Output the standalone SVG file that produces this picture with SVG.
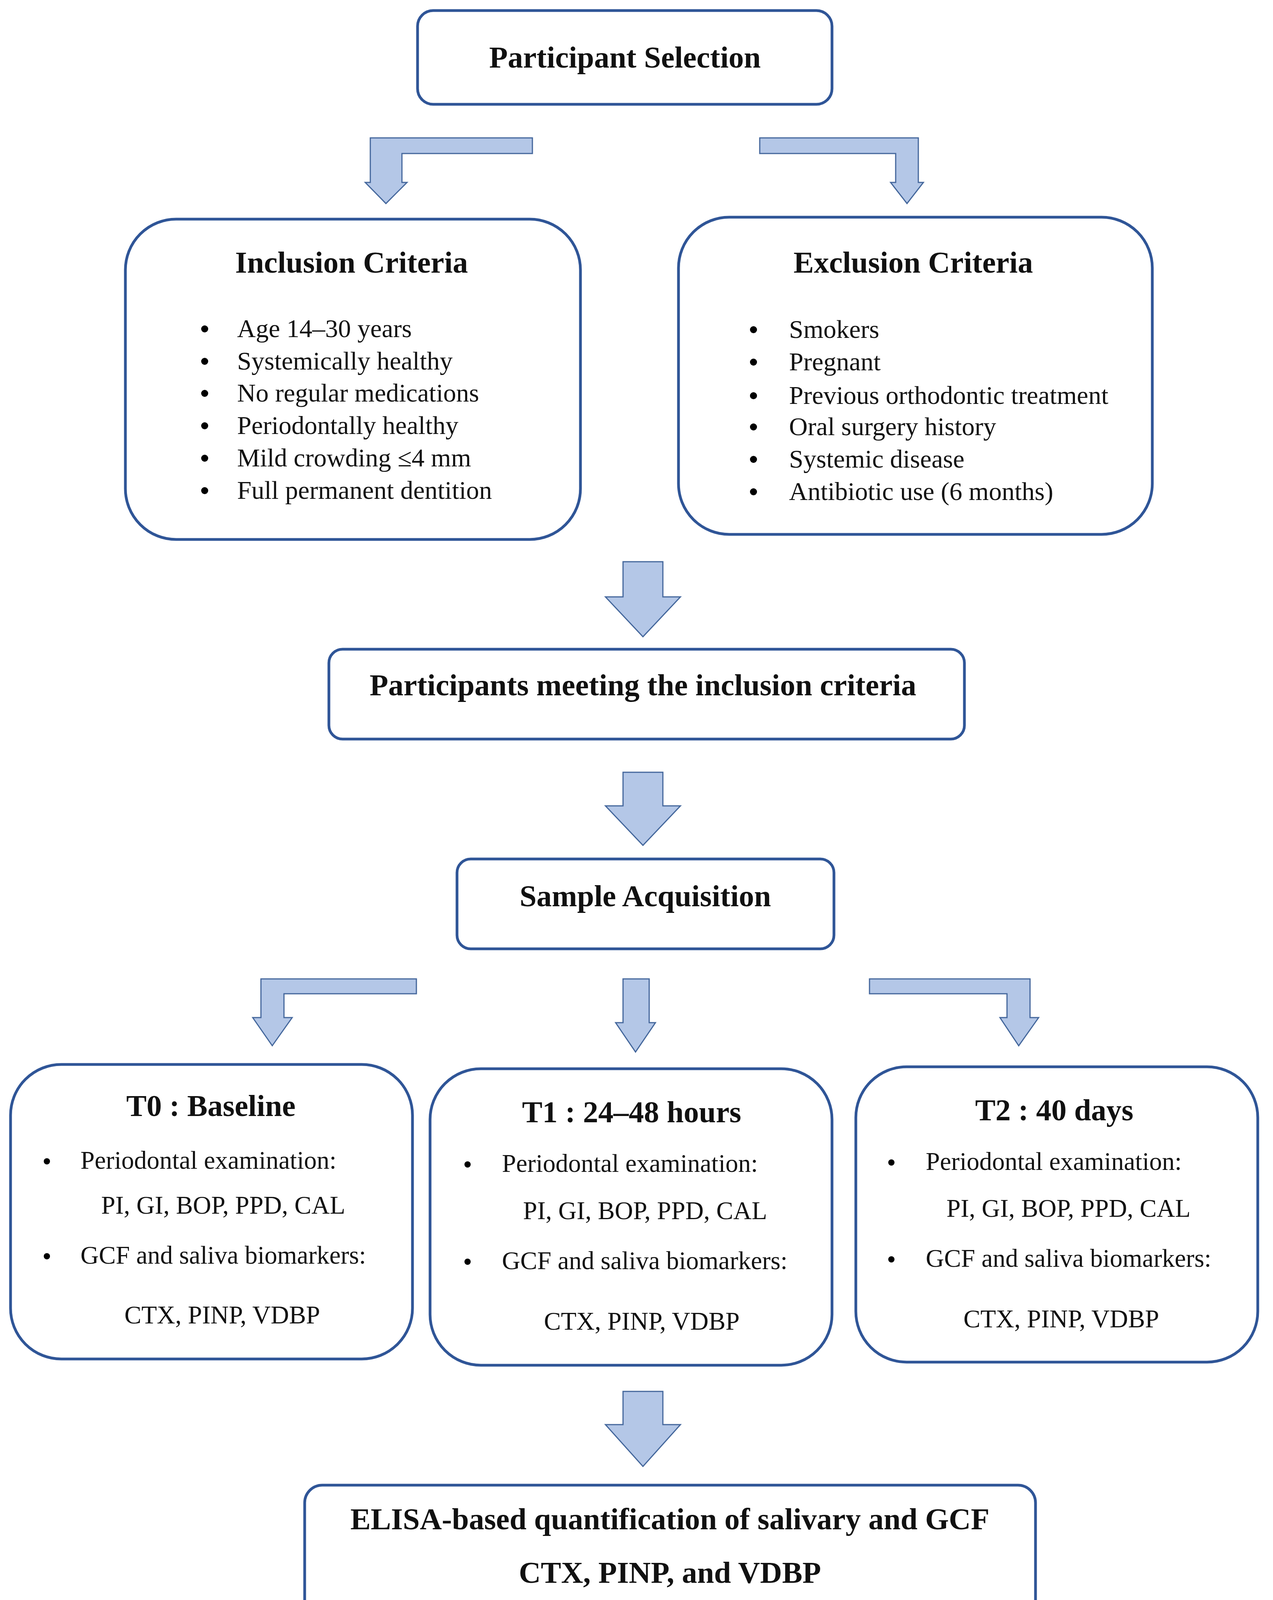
<svg xmlns="http://www.w3.org/2000/svg" width="3259" height="4204" viewBox="0 0 3259 4204">
<style>
.box{fill:#fff;stroke:#2f5597;stroke-width:7}
.arr{fill:#b4c7e7;stroke:#44679c;stroke-width:3}
text{font-family:"Liberation Serif","Times New Roman",serif;fill:#111}
.t{font-size:78px;font-weight:bold;text-anchor:middle}
.b{font-size:66px}
.s{font-size:65px}
.c{text-anchor:middle}
</style>
<rect width="3259" height="4204" fill="#fff"/>
<g id="connectors">
<polygon class="arr" points="1363,353 948,353 948,467 935,467 988,521 1042,467 1029,467 1029,393 1363,393"/>
<polygon class="arr" points="1945,353 2351,353 2351,467 2364,467 2322,521 2280,467 2293,467 2293,393 1945,393"/>
<polygon class="arr" points="1595,1438 1697,1438 1697,1528 1742,1528 1646,1630 1550,1528 1595,1528"/>
<polygon class="arr" points="1595,1977 1697,1977 1697,2063 1742,2063 1646,2164 1550,2063 1595,2063"/>
<polygon class="arr" points="1066,2506 668,2506 668,2605 647,2605 697,2677 748,2605 727,2605 727,2544 1066,2544"/>
<polygon class="arr" points="1595,2506 1662,2506 1662,2618 1678,2618 1627,2693 1576,2618 1595,2618"/>
<polygon class="arr" points="2226,2506 2637,2506 2637,2605 2659,2605 2608,2677 2560,2605 2578,2605 2578,2544 2226,2544"/>
<polygon class="arr" points="1595,3562 1697,3562 1697,3647 1742,3647 1646,3754 1550,3647 1595,3647"/>
</g>
<g id="selection"><rect class="box" x="1069" y="27" width="1061" height="240" rx="40"/><text class="t" x="1600" y="173">Participant Selection</text></g>
<g id="inclusion"><rect class="box" x="321" y="561" width="1165" height="820" rx="130"/>
<text class="t" x="900" y="698">Inclusion Criteria</text>
<circle cx="524" cy="842" r="9"/><text class="b" x="607" y="863">Age 14–30 years</text>
<circle cx="524" cy="925" r="9"/><text class="b" x="607" y="946">Systemically healthy</text>
<circle cx="524" cy="1007" r="9"/><text class="b" x="607" y="1028">No regular medications</text>
<circle cx="524" cy="1090" r="9"/><text class="b" x="607" y="1111">Periodontally healthy</text>
<circle cx="524" cy="1173" r="9"/><text class="b" x="607" y="1194">Mild crowding ≤4 mm</text>
<circle cx="524" cy="1256" r="9"/><text class="b" x="607" y="1277">Full permanent dentition</text>
</g>
<g id="exclusion"><rect class="box" x="1737" y="556" width="1213" height="812" rx="130"/>
<text class="t" x="2338" y="698">Exclusion Criteria</text>
<circle cx="1929" cy="844" r="9"/><text class="b" x="2020" y="865">Smokers</text>
<circle cx="1929" cy="927" r="9"/><text class="b" x="2020" y="948">Pregnant</text>
<circle cx="1929" cy="1013" r="9"/><text class="b" x="2020" y="1034">Previous orthodontic treatment</text>
<circle cx="1929" cy="1093" r="9"/><text class="b" x="2020" y="1114">Oral surgery history</text>
<circle cx="1929" cy="1176" r="9"/><text class="b" x="2020" y="1197">Systemic disease</text>
<circle cx="1929" cy="1259" r="9"/><text class="b" x="2020" y="1280">Antibiotic use (6 months)</text>
</g>
<g id="meeting"><rect class="box" x="842" y="1662" width="1627" height="230" rx="35"/><text class="t" x="1646" y="1780">Participants meeting the inclusion criteria</text></g>
<g id="sample"><rect class="box" x="1170" y="2199" width="965" height="230" rx="35"/><text class="t" x="1652" y="2320">Sample Acquisition</text></g>
<g id="t0"><rect class="box" x="27" y="2725" width="1029" height="754" rx="130"/>
<text class="t" x="540" y="2857">T0 : Baseline</text>
<circle cx="120" cy="2973" r="8"/><text class="s" x="206" y="2992">Periodontal examination:</text>
<text class="s" x="259" y="3107">PI, GI, BOP, PPD, CAL</text>
<circle cx="120" cy="3216" r="8"/><text class="s" x="206" y="3235">GCF and saliva biomarkers:</text>
<text class="s c" x="569" y="3388">CTX, PINP, VDBP</text>
</g>
<g id="t1"><rect class="box" x="1101" y="2736" width="1029" height="759" rx="130"/>
<text class="t" x="1617" y="2873">T1 : 24–48 hours</text>
<circle cx="1197" cy="2981" r="8"/><text class="s" x="1285" y="3000">Periodontal examination:</text>
<text class="s" x="1339" y="3121">PI, GI, BOP, PPD, CAL</text>
<circle cx="1197" cy="3230" r="8"/><text class="s" x="1285" y="3249">GCF and saliva biomarkers:</text>
<text class="s c" x="1643" y="3404">CTX, PINP, VDBP</text>
</g>
<g id="t2"><rect class="box" x="2191" y="2731" width="1029" height="756" rx="130"/>
<text class="t" x="2699" y="2868">T2 : 40 days</text>
<circle cx="2282" cy="2976" r="8"/><text class="s" x="2370" y="2995">Periodontal examination:</text>
<text class="s" x="2423" y="3115">PI, GI, BOP, PPD, CAL</text>
<circle cx="2282" cy="3224" r="8"/><text class="s" x="2370" y="3243">GCF and saliva biomarkers:</text>
<text class="s c" x="2717" y="3398">CTX, PINP, VDBP</text>
</g>
<g id="elisa"><rect class="box" x="780" y="3802" width="1871" height="353" rx="45"/>
<text class="t" x="1715" y="3915">ELISA-based quantification of salivary and GCF</text>
<text class="t" x="1715" y="4052">CTX, PINP, and VDBP</text>
</g>
</svg>
